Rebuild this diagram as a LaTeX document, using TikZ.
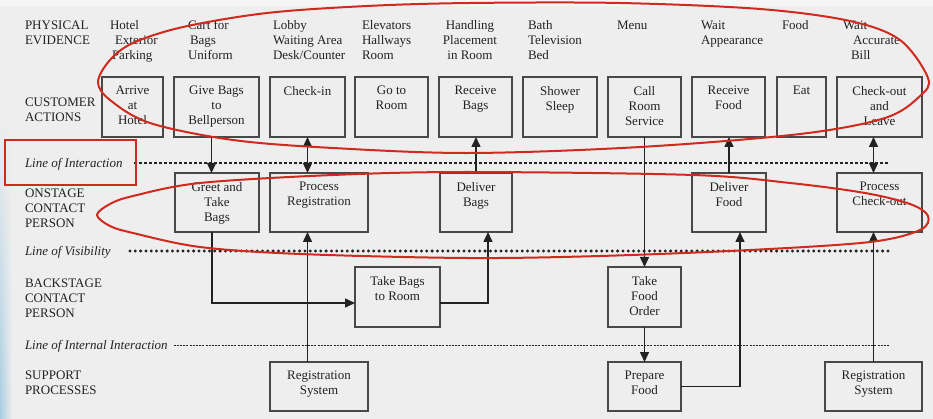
\documentclass[tikz,border=0pt]{standalone}
\usepackage{fontspec}
\setmainfont{Liberation Serif}
\usetikzlibrary{arrows.meta,fadings}

\definecolor{paper}{HTML}{EEEEEE}
\definecolor{ink}{HTML}{222222}
\definecolor{frame}{HTML}{484848}
\definecolor{marker}{HTML}{D02A1E}
\definecolor{edge}{HTML}{A8CDE2}

% a service box: name, left, top, right, bottom, text
\newcommand\stagebox[6]{%
  \node[stage, minimum width={(#4-#2)*1pt}, minimum height={(#5-#3)*1pt}]
    (#1) at ({(#2+#4)/2},{(#3+#5)/2}) {};
  \node[boxtext] (#1-t) at ([yshift=-9pt]#1.north) {#6};
}

\begin{document}
\begin{tikzpicture}[x=1pt,y=-1pt,
  every node/.style={font=\fontsize{13}{15}\selectfont, text=ink, inner sep=0pt, outer sep=0pt},
  stage/.style={draw=frame, line width=1.5pt},
  boxtext/.style={anchor=north, align=center},
  lab/.style={anchor=north west, align=left},
  flow/.style={draw=ink, line width=1.5pt, -{Triangle[length=10pt,width=9pt]}},
  both/.style={draw=ink, line width=1.5pt, {Triangle[length=10pt,width=9pt]}-{Triangle[length=10pt,width=9pt]}},
  interline/.style={draw=ink, line width=1.1pt, dash pattern=on 3pt off 2pt},
  visline/.style={draw=ink, line width=3.3pt, line cap=round, dash pattern=on 0pt off 5.3pt},
  intline/.style={draw=ink, line width=1pt, dash pattern=on 2pt off 1.2pt},
  ring/.style={draw=marker, line width=2pt},
]
\useasboundingbox (0,0) rectangle (933,419);
\fill[paper] (0,0) rectangle (933,419);
\fill[white, opacity=0.5] (0,0) rectangle (933,6);
\shade[left color=edge, right color=paper, path fading=north] (0,120) rectangle (12,419);

% row headings
\node[lab] (hPE) at (25,20.5) {PHYSICAL\\EVIDENCE};
\node[lab] (hCA) at (25,97.5) {CUSTOMER\\ACTIONS};
\node[lab] (hON) at (25,188.5) {ONSTAGE\\CONTACT\\PERSON};
\node[lab] (hBK) at (25,278.5) {BACKSTAGE\\CONTACT\\PERSON};
\node[lab] (hSP) at (25,370.5) {SUPPORT\\PROCESSES};

% physical evidence
\node[lab] (peHotel) at (110,20.5) {Hotel\\\hspace*{5pt}Exterior\\\hspace*{2pt}Parking};
\node[lab] (peCart) at (188,20.5) {Cart for\\\hspace*{2pt}Bags\\Uniform};
\node[lab] (peLobby) at (273,20.5) {Lobby\\Waiting Area\\Desk/Counter};
\node[lab] (peElev) at (362,20.5) {Elevators\\Hallways\\Room};
\node[boxtext] (peHand) at (470,20.5) {Handling\\Placement\\in Room};
\node[lab] (peBath) at (528,20.5) {Bath\\Television\\Bed};
\node[lab] (peMenu) at (617,20.5) {Menu};
\node[lab] (peWait) at (701,20.5) {Wait\\Appearance};
\node[lab] (peFood) at (782,20.5) {Food};
\node[lab] (peBill) at (843,20.5) {Wait\\\hspace*{10pt}Accurate\\\hspace*{8pt}Bill};

% customer actions
\stagebox{arrive}{102}{77}{163}{137}{Arrive\\at\\Hotel}
\stagebox{give}{174}{77}{259}{137}{Give Bags\\to\\Bellperson}
\stagebox{checkin}{270}{77}{345}{137}{Check-in}
\stagebox{goroom}{355}{77}{428}{137}{Go to\\Room}
\stagebox{recbags}{439}{77}{512}{137}{Receive\\Bags}
\stagebox{shower}{523}{77}{597}{137}{Shower\\Sleep}
\stagebox{callrs}{608}{77}{681}{137}{Call\\Room\\Service}
\stagebox{recfood}{692}{77}{765}{137}{Receive\\Food}
\stagebox{eat}{777}{77}{826}{137}{Eat}
\stagebox{checkout}{837}{77}{922}{137}{Check-out\\and\\Leave}

% onstage contact person
\stagebox{greet}{175}{173}{259}{232}{Greet and\\Take\\Bags}
\stagebox{procreg}{270}{173}{368}{232}{Process\\Registration}
\stagebox{delbags}{440}{173}{512}{232}{Deliver\\Bags}
\stagebox{delfood}{692}{173}{766}{232}{Deliver\\Food}
\stagebox{proccheck}{837}{173}{922}{232}{Process\\Check-out}

% backstage contact person
\stagebox{bagsroom}{355}{267}{440}{327}{Take Bags\\to Room}
\stagebox{foodorder}{608}{267}{681}{327}{Take\\Food\\Order}

% support processes
\stagebox{regsys}{270}{362}{368}{411}{Registration\\System}
\stagebox{prepfood}{608}{362}{681}{411}{Prepare\\Food}
\stagebox{regsysB}{825}{362}{922}{411}{Registration\\System}

% separating lines
\node[lab, font=\fontsize{13}{15}\selectfont\itshape] (loi) at (25,158.5) {Line of Interaction};
\node[lab, font=\fontsize{13}{15}\selectfont\itshape] (lov) at (25,246.5) {Line of Visibility};
\node[lab, font=\fontsize{13}{15}\selectfont\itshape] (lii) at (25,340.5) {Line of Internal Interaction};
\coordinate (loiEnd) at (888,163);
\coordinate (lovStart) at (130,251);
\coordinate (lovEnd) at (888,251);
\coordinate (liiEnd) at (890,345);
\draw[interline] (loi.east |- loiEnd) ++(12,0) -- (loiEnd);
\draw[visline] (lovStart) -- (lovEnd);
\draw[intline] (lii.east |- liiEnd) ++(6,0) -- (liiEnd);

% flows
\draw[flow] ([xshift=-5pt]give.south) -- ([xshift=-5pt]give.south |- greet.north);
\draw[both] (checkin.south) -- (checkin.south |- procreg.north);
\draw[flow] ([xshift=-5pt]greet.south) |- ([yshift=-6pt]bagsroom.west);
\draw[flow] (checkin.south |- regsys.north) -- (checkin.south |- procreg.south);
\draw[flow] ([yshift=-6pt]bagsroom.east) -| ([xshift=12pt]delbags.south);
\draw[flow] (delbags.north) -- (delbags.north |- recbags.south);
\draw[flow] (callrs.south) -- (foodorder.north);
\draw[flow] (foodorder.south) -- (prepfood.north);
\draw[flow] (prepfood.east) -| ([xshift=11pt]delfood.south);
\draw[flow] (delfood.north) -- (delfood.north |- recfood.south);
\draw[both] (regsysB.north |- checkout.south) -- (regsysB.north |- proccheck.north);
\draw[flow] (regsysB.north) -- (regsysB.north |- proccheck.south);

% highlight marks
\draw[ring] plot[smooth cycle, tension=0.55] coordinates {
  (98,82) (110,60) (133,43) (183,27) (267,13) (367,6) (470,3) (620,3)
  (760,9) (850,21) (900,40) (928,78) (920,96) (885,118) (800,134)
  (640,147) (470,153) (333,148) (233,140) (150,123) (110,100)};
\draw[ring] plot[smooth cycle, tension=0.55] coordinates {
  (97,215) (110,204) (133,196) (200,183) (333,175) (467,172) (693,175)
  (790,183) (865,193) (910,204) (928,216) (920,230) (870,242) (750,250)
  (600,256) (467,258) (300,254) (200,247) (133,233) (110,226)};
\node[draw=marker, line width=2.8pt, minimum width=131pt, minimum height=45pt] (loiMark) at (70.5,162.5) {};
\end{tikzpicture}
\end{document}
